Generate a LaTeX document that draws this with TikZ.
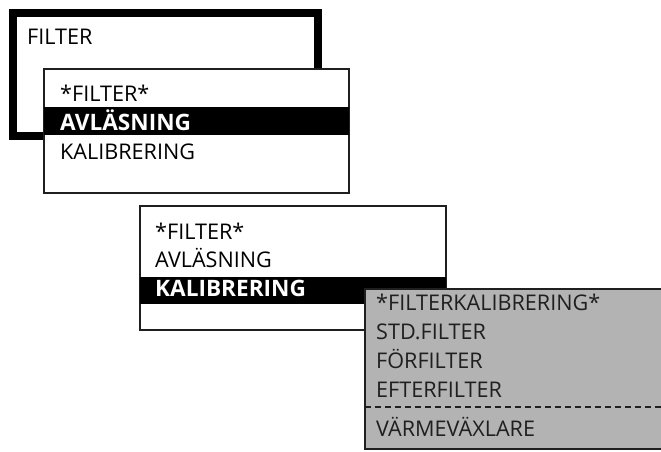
\documentclass[tikz,border=0pt]{standalone}
\usepackage{fontspec}
\setmainfont{Open Sans}
\definecolor{menuframe}{gray}{0.12}
\definecolor{subgrey}{RGB}{179,179,179}
\definecolor{greytext}{gray}{0.12}
\tikzset{
  menutext/.style={anchor=base west, inner sep=0pt, font=\fontsize{21.6}{25}\selectfont},
  seltext/.style={menutext, font=\fontsize{22.6}{26}\selectfont\bfseries, text=white},
}
\begin{document}
\begin{tikzpicture}[x=1pt,y=-1pt]
	\def\rh{28.9}
	\clip (0,0) rectangle (661,452);
	
	% main menu
	\draw[black, line width=8pt, fill=white] (13,13) rectangle (318,136);
	\node[menutext] (main) at (27,45) {FILTER};
	
	% filter menu, first view
	\draw[menuframe, line width=1.6pt, fill=white] (44,69) rectangle (349,193);
	\fill[black] (44,107) rectangle (349,135);
	\node[menutext] (fhead) at (60,101.7) {*FILTER*};
	\node[seltext] (fread) at (60,101.7+\rh) {AVLÄSNING};
	\node[menutext] (fcal) at (60,101.7+2*\rh) {KALIBRERING};
	
	% filter menu, second view
	\draw[menuframe, line width=1.6pt, fill=white] (140,206) rectangle (446,330);
	\fill[black] (140,277) rectangle (446,304);
	\node[menutext] (shead) at (155,239) {*FILTER*};
	\node[menutext] (sread) at (155,239+\rh) {AVLÄSNING};
	\node[seltext] (scal) at (155,239+2*\rh) {KALIBRERING};
	
	% calibration submenu
	\draw[menuframe, line width=1.6pt, fill=subgrey] (365,289) rectangle (680,449);
	\draw[menuframe, line width=2pt, dash pattern=on 5.5pt off 4.5pt] (365,407) -- (680,407);
	\node[menutext, text=greytext] (khead) at (376,310.5) {*FILTERKALIBRERING*};
	\node[menutext, text=greytext] (kstd) at (376,310.5+\rh) {STD.FILTER};
	\node[menutext, text=greytext] (kpre) at (376,310.5+2*\rh) {FÖRFILTER};
	\node[menutext, text=greytext] (kpost) at (376,310.5+3*\rh) {EFTERFILTER};
	\node[menutext, text=greytext] (kheat) at (376,436) {VÄRMEVÄXLARE};
	
\end{tikzpicture}
\end{document}
